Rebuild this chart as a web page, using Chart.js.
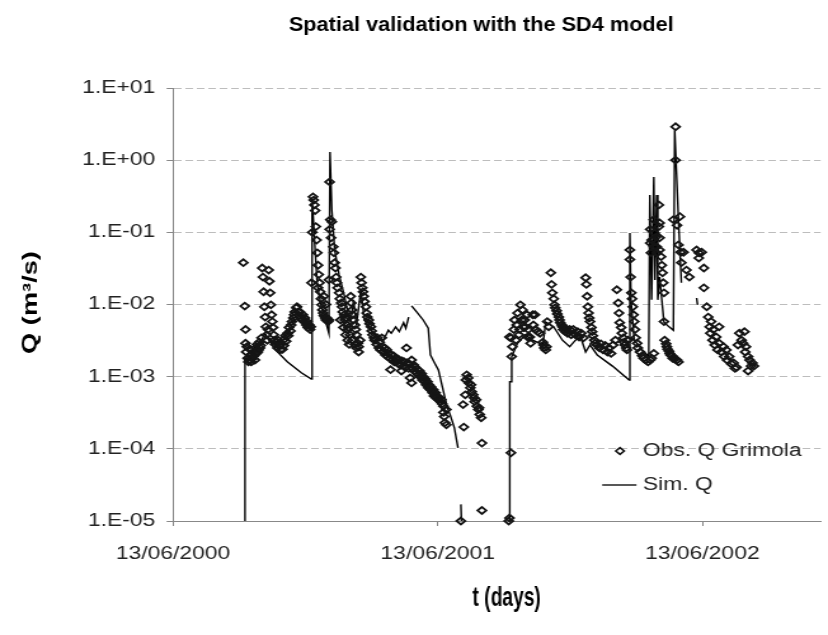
<!DOCTYPE html>
<html>
<head>
<meta charset="utf-8">
<title>Spatial validation with the SD4 model</title>
<script src="https://cdn.jsdelivr.net/npm/chart.js@4.4.1/dist/chart.umd.min.js"></script>
<style>
    html, body { margin: 0; padding: 0; background: #fff; overflow: hidden; }
    /* the original picture is stretched sideways, so draw narrow and widen */
    #wrap { width: 652px; height: 635px; transform: scaleX(1.2699); transform-origin: 0 0; }
</style>
</head>
<body>
<div id="wrap"><canvas id="flowChart" width="652" height="635"></canvas></div>
<script>
// Chart data (t in days since 13/06/2000, Q in m3/s)
const chartTitle = 'Spatial validation with the SD4 model';
const xTitle = 't (days)';
const yTitle = 'Q (m³/s)';
const obsLabel = 'Obs. Q Grimola';
const simLabel = 'Sim. Q';

const xTickDays = [0, 365, 730];
const xTickLabels = ['13/06/2000', '13/06/2001', '13/06/2002'];
const yTickValues = [1e-5, 1e-4, 1e-3, 1e-2, 1e-1, 1, 10];
const yTickLabels = ['1.E-05', '1.E-04', '1.E-03', '1.E-02', '1.E-01', '1.E+00', '1.E+01'];

const obsDays = [
    97, 99, 100, 100, 101, 102, 103, 104, 105, 106, 107, 108,
    109, 110, 111, 112, 113, 114, 115, 116, 117, 118, 119, 120,
    121, 122, 123, 124, 125, 126, 127, 128, 129, 130, 131, 132,
    133, 134, 135, 136, 137, 138, 139, 140,
    141, 142, 144, 145, 147, 148, 149, 151, 152, 153, 155, 156,
    158, 159, 160, 162, 163, 164, 166, 167, 168, 170, 171, 173,
    174, 175, 177, 178, 179, 181, 182, 184, 185, 186, 188, 189,
    190,
    191, 192, 193, 194, 195, 196, 197, 198, 199, 200, 200, 201,
    202, 203, 204, 205, 206, 207, 208, 208, 210, 211, 211, 212,
    214, 215,
    216, 217, 216, 215, 218, 219, 221, 222, 223, 224, 225, 226,
    227, 229, 230, 232, 233, 234, 236, 237, 238, 240, 241, 242,
    244, 231, 235, 238, 241, 243, 245, 246, 247, 247, 248, 249,
    251, 251, 252, 253, 253, 255, 256, 256, 258, 259, 260, 261,
    262, 263, 264, 266, 267, 268, 270, 271, 273, 274, 275, 277,
    278,
    281, 282, 284, 285, 286, 288, 289, 290, 292, 293, 295, 296,
    297, 299, 300, 301, 303, 304, 305, 307, 308, 310, 311, 312,
    314, 315, 316, 318, 319, 321, 322, 323, 325, 326, 327, 329,
    329, 330, 332, 333, 334, 336, 337, 338, 340, 341, 343, 344,
    345, 347, 348, 349, 351, 352, 353, 355, 356, 358, 359, 360,
    362, 363, 364, 366, 367, 369, 370, 371, 373, 373, 374, 375,
    377, 377,
    397, 400, 401, 403, 404, 405, 407, 408, 410, 411, 412, 414,
    415, 416, 418, 419, 421, 422, 423, 425, 426, 426,
    463, 464, 466, 466, 467, 468, 464, 470, 471, 473, 474, 475,
    477, 478, 479, 481, 482, 484, 485, 486, 488, 489, 490, 492,
    493, 496, 497, 499, 500, 503, 506, 510, 511, 512, 514, 515,
    516, 518, 521, 522, 523, 525, 526, 527, 529, 530, 532, 533,
    534, 536, 537, 538, 540, 541, 542, 544, 547, 549, 552, 555,
    558, 560, 563, 566, 569, 570, 571, 572, 573, 574, 575, 577,
    578, 579, 581, 582, 585, 588, 590, 593, 596, 599, 601, 604,
    607, 610, 612, 614, 615, 616, 618, 619, 621, 622, 623, 625,
    626, 627,
    630, 630, 631, 632, 633, 634, 635, 636, 637, 638, 640, 641,
    644, 647, 649, 652, 655, 658, 660, 663, 658, 658, 659, 660,
    663, 663, 664, 666, 667, 667, 670, 670, 671, 671, 671, 673,
    674, 675, 676, 677, 677, 678, 680, 681, 682, 684, 685, 686,
    688, 689, 692, 695, 697, 693, 693, 690, 695, 699, 697, 700,
    701, 704, 708, 712, 722, 725, 725, 729, 732, 732, 736, 738,
    740, 741, 742, 744, 745, 747, 749, 751, 753, 753, 756, 759,
    760, 763, 764, 767, 770, 773, 775, 777, 779, 781, 784, 786,
    788, 789, 790, 793, 795, 797, 799, 801, 793
];
const obsQ = [
    3.8e-2, 9.5e-3, 4.5e-3, 2.9e-3, 2.2e-3, 2.6e-3, 1.8e-3, 1.6e-3, 1.7e-3, 2.4e-3, 2.0e-3, 1.6e-3,
    2.0e-3, 1.8e-3, 2.2e-3, 1.95e-3, 1.7e-3, 2.5e-3, 2.1e-3, 2.8e-3, 2.2e-3, 2.35e-3, 3.0e-3, 2.5e-3,
    2.7e-3, 3.45e-3, 3.2e-2, 2.4e-2, 1.5e-2, 9.3e-3, 6.7e-3, 4.9e-3, 3.8e-3, 3.2e-3, 4.5e-3, 3.0e-2,
    2.1e-2, 1.45e-2, 9.9e-3, 7.2e-3, 5.8e-3, 4.8e-3, 3.8e-3, 3.2e-3,
    2.8e-3, 3.0e-3, 2.5e-3, 3.2e-3, 2.7e-3, 2.35e-3, 2.85e-3, 2.4e-3, 3.2e-3, 2.7e-3, 3.7e-3, 3.1e-3,
    4.0e-3, 3.7e-3, 4.8e-3, 4.3e-3, 5.2e-3, 5.8e-3, 6.5e-3, 7.2e-3, 7.9e-3, 9.0e-3, 9.3e-3, 7.9e-3,
    7.0e-3, 7.9e-3, 6.5e-3, 6.1e-3, 7.2e-3, 5.8e-3, 6.5e-3, 5.2e-3, 5.8e-3, 4.8e-3, 5.2e-3, 4.5e-3,
    4.9e-3,
    2.0e-2, 1.0e-1, 3.1e-1, 2.8e-1, 2.4e-1, 2.0e-1, 1.2e-1, 7.8e-2, 5.2e-2, 3.5e-2, 1.7e-2, 2.6e-2,
    2.0e-2, 1.5e-2, 1.2e-2, 9.9e-3, 8.4e-3, 7.6e-3, 7.0e-3, 1.3e-2, 6.5e-3, 6.1e-3, 1.0e-2, 6.5e-3,
    5.8e-3, 6.1e-3,
    5.0e-1, 1.5e-1, 1.1e-1, 2.2e-2, 8.4e-2, 1.4e-1, 6.3e-2, 5.2e-2, 3.8e-2, 3.2e-2, 2.4e-2, 2.0e-2,
    1.7e-2, 1.45e-2, 1.2e-2, 1.05e-2, 9.3e-3, 7.9e-3, 7.2e-3, 6.1e-3, 6.5e-3, 5.2e-3, 4.5e-3, 4.8e-3,
    3.8e-3, 6.1e-3, 4.8e-3, 3.8e-3, 3.2e-3, 2.8e-3, 1.3e-2, 1.05e-2, 8.4e-3, 3.2e-3, 7.2e-3, 6.1e-3,
    5.2e-3, 2.8e-3, 4.5e-3, 3.8e-3, 2.5e-3, 2.9e-3, 2.6e-3, 2.2e-3, 3.2e-3, 2.4e-2, 2.0e-2, 1.7e-2,
    1.5e-2, 1.3e-2, 1.1e-2, 9.3e-3, 7.6e-3, 6.7e-3, 6.1e-3, 5.4e-3, 4.9e-3, 4.3e-3, 3.8e-3, 3.45e-3,
    3.2e-3,
    2.8e-3, 3.45e-3, 2.5e-3, 3.0e-3, 2.35e-3, 3.45e-3, 2.6e-3, 2.2e-3, 2.5e-3, 2.0e-3, 2.35e-3, 1.9e-3,
    2.1e-3, 1.8e-3, 1.25e-3, 2.0e-3, 1.7e-3, 1.95e-3, 1.6e-3, 1.8e-3, 1.6e-3, 1.75e-3, 1.5e-3, 1.7e-3,
    1.45e-3, 1.2e-3, 1.65e-3, 1.4e-3, 1.6e-3, 1.35e-3, 2.5e-3, 1.55e-3, 1.3e-3, 1.5e-3, 9.6e-4, 8.2e-4,
    1.7e-3, 1.3e-3, 1.45e-3, 1.2e-3, 1.35e-3, 1.13e-3, 1.25e-3, 1.06e-3, 1.2e-3, 1.0e-3, 1.1e-3, 9.0e-4,
    1.0e-3, 8.5e-4, 9.3e-4, 7.7e-4, 8.5e-4, 7.0e-4, 7.7e-4, 6.6e-4, 7.2e-4, 6.0e-4, 6.6e-4, 5.4e-4,
    6.0e-4, 5.1e-4, 5.4e-4, 4.8e-4, 5.1e-4, 4.5e-4, 4.8e-4, 4.2e-4, 3.2e-4, 3.9e-4, 2.8e-4, 2.3e-4,
    2.15e-4, 3.5e-4,
    1.0e-5, 4.1e-4, 2.0e-4, 5.6e-4, 9.0e-4, 1.06e-3, 9.6e-4, 8.2e-4, 7.0e-4, 7.7e-4, 6.2e-4, 5.6e-4,
    5.1e-4, 4.5e-4, 4.8e-4, 3.9e-4, 3.5e-4, 3.7e-4, 3.0e-4, 2.7e-4, 1.2e-4, 1.4e-5,
    1.0e-5, 1.1e-5, 8.8e-5, 3.45e-3, 1.9e-3, 2.6e-3, 3.55e-3, 4.5e-3, 6.1e-3, 3.2e-3, 5.2e-3, 7.6e-3,
    3.8e-3, 4.5e-3, 9.9e-3, 6.1e-3, 8.4e-3, 4.8e-3, 6.1e-3, 4.9e-3, 7.2e-3, 3.55e-3, 4.5e-3, 3.55e-3,
    2.9e-3, 7.2e-3, 5.2e-3, 7.2e-3, 4.5e-3, 4.2e-3, 4.0e-3, 3.0e-3, 2.75e-3, 2.5e-3, 2.35e-3, 2.6e-3,
    5.8e-3, 4.9e-3, 2.75e-2, 1.9e-2, 1.45e-2, 1.2e-2, 9.9e-3, 9.0e-3, 8.2e-3, 7.4e-3, 6.7e-3, 6.1e-3,
    5.6e-3, 5.2e-3, 4.9e-3, 4.5e-3, 4.8e-3, 4.2e-3, 4.5e-3, 4.0e-3, 4.5e-3, 3.8e-3, 4.5e-3, 3.8e-3,
    4.2e-3, 3.55e-3, 4.0e-3, 3.45e-3, 2.35e-2, 1.9e-2, 1.3e-2, 9.3e-3, 7.6e-3, 6.5e-3, 5.8e-3, 4.8e-3,
    4.2e-3, 3.7e-3, 3.2e-3, 2.9e-3, 2.75e-3, 2.5e-3, 2.85e-3, 2.35e-3, 2.7e-3, 2.2e-3, 2.5e-3, 2.1e-3,
    2.75e-3, 3.2e-3, 1.6e-2, 1.05e-2, 7.6e-3, 5.6e-3, 4.8e-3, 4.0e-3, 3.45e-3, 3.0e-3, 2.75e-3, 2.5e-3,
    2.35e-3, 3.2e-3,
    5.7e-2, 4.2e-2, 2.4e-2, 1.45e-2, 1.2e-2, 9.3e-3, 7.2e-3, 5.8e-3, 4.5e-3, 3.45e-3, 2.9e-3, 2.5e-3,
    2.2e-3, 1.95e-3, 1.8e-3, 1.7e-3, 1.6e-3, 1.7e-3, 1.8e-3, 2.1e-3, 1.1e-1, 7.1e-2, 5.2e-2, 7.8e-2,
    1.5e-1, 6.3e-2, 9.8e-2, 8.6e-2, 6.3e-2, 5.2e-2, 2.4e-1, 1.2e-1, 1.35e-1, 8.4e-2, 5.7e-2, 4.6e-2,
    3.5e-2, 2.75e-2, 2.0e-2, 1.45e-2, 5.8e-3, 3.2e-3, 2.85e-3, 2.6e-3, 2.4e-3, 2.25e-3, 2.1e-3, 2.0e-3,
    1.95e-3, 1.8e-3, 1.75e-3, 1.7e-3, 1.6e-3, 2.9, 1.0, 1.5e-1, 1.25e-1, 1.65e-1, 6.7e-2, 5.3e-2,
    3.8e-2, 5.3e-2, 3.0e-2, 2.4e-2, 5.7e-2, 5.2e-2, 4.4e-2, 5.3e-2, 3.2e-2, 1.7e-2, 9.3e-3, 6.7e-3,
    4.9e-3, 4.0e-3, 5.8e-3, 3.2e-3, 4.5e-3, 2.75e-3, 3.55e-3, 2.35e-3, 4.9e-3, 2.9e-3, 2.2e-3, 2.6e-3,
    1.9e-3, 2.35e-3, 1.7e-3, 1.9e-3, 1.5e-3, 1.55e-3, 1.3e-3, 1.35e-3, 2.75e-3, 4.0e-3, 3.2e-3, 2.9e-3,
    4.2e-3, 2.2e-3, 2.6e-3, 1.9e-3, 1.7e-3, 1.4e-3, 1.55e-3, 1.4e-3, 1.2e-3
];

// simulated series, null = no value (gap in the line)
const simDays = [
    98.6, 99.3, 105, 112, 122, 127, 130, 144, 158, 177, 190.8, 191.8,
    196, 199, 204, 210, 215, 216.5, 219, 223, 229, 236, 242, 245,
    249, 253, 259, 264, 273, 284, 290, 297, 301, 307, 312, 318,
    321, 325, 327, 329, 336, 345, 352, 355, 360, 366, 373, 378,
    382, 388, 393, 395, 397, 397.8, 430, 463.7, 464.4, 466.4, 467.1, 475,
    486, 496, 510, 514, 525, 537, 547, 555, 562, 569, 575, 585,
    606, 629, 630, 631.5, 636, 647, 656, 657.5, 660, 663, 664.5, 667,
    668.5, 671, 677, 684, 690, 691.8, 697, 701, 710, 722, 723.3
];
const simQ = [
    1e-5, 1.7e-3, 2.2e-3, 2.5e-3, 3.2e-3, 4.0e-3, 3.45e-3, 2.2e-3, 1.6e-3, 1.13e-3, 9.3e-4, 0.30,
    0.057, 0.0187, 0.0099, 0.0061, 0.0040, 1.3, 0.204, 0.057, 0.0257, 0.0136, 0.0072, 0.0057,
    0.0116, 0.0052, 0.0159, 0.0061, 0.0044, 0.00345, 0.0032, 0.0044, 0.0040, 0.0049, 0.0042, 0.0056,
    0.0047, 0.0067, null, 0.0096, 0.0079, 0.0061, 0.0047, 0.0020, 0.0016, 0.00124, 0.00062, 0.00038,
    0.00030, 0.000195, 0.000103, null, 1.7e-5, 1e-5, null, 1e-5, 8.5e-4, 8.5e-4, 1.9e-3, 2.9e-3,
    3.8e-3, 3.2e-3, 2.75e-3, 5.7e-3, 4.9e-3, 3.2e-3, 2.6e-3, 3.2e-3, 3.55e-3, 2.2e-3, 2.75e-3, 2.0e-3,
    1.4e-3, 9.0e-4, 0.098, 0.0116, 3.2e-3, 2.35e-3, 1.9e-3, 0.33, 0.0116, 0.585, 0.0219, 0.33,
    0.0116, 0.024, 5.7e-3, 4.9e-3, 4.4e-3, 2.6, 0.149, 0.020, null, 0.0123, 0.0099
];

const fontFamily = "'Liberation Sans', Arial, sans-serif";

// draws a text line with its own x/y scaling (the original bold labels are condensed)
function drawScaledText(ctx, text, x, y, font, sx, sy, rotation) {
    ctx.save();
    ctx.font = font;
    ctx.fillStyle = '#000';
    ctx.textAlign = 'center';
    ctx.textBaseline = 'middle';
    ctx.translate(x, y);
    if (rotation) ctx.rotate(rotation);
    ctx.scale(sx, sy);
    ctx.fillText(text, 0, 0);
    ctx.restore();
}

// Chart title and axis titles
const titlesPlugin = {
    id: 'titles',
    afterDraw(chart) {
        const {ctx, chartArea} = chart;
        drawScaledText(ctx, chartTitle, 379, 25, 'bold 19px ' + fontFamily, 0.9, 1.08);
        drawScaledText(ctx, xTitle, 399, 598, 'bold 21px ' + fontFamily, 0.72, 1.3);
        drawScaledText(ctx, yTitle, 24, (chartArea.top + chartArea.bottom) / 2 - 2,
            'bold 20px ' + fontFamily, 1.36, 0.82, -Math.PI / 2);
    }
};

// Legend sits inside the plot area, bottom right
const legendPlugin = {
    id: 'insideLegend',
    afterDraw(chart) {
        const {ctx, chartArea} = chart;
        const textX = chartArea.right - 140;
        const row1 = chartArea.bottom - 70;
        const row2 = chartArea.bottom - 36;
        ctx.save();
        ctx.strokeStyle = '#111';
        ctx.lineWidth = 1.6;
        // diamond marker
        const mx = chartArea.right - 158, r = 3.3;
        ctx.beginPath();
        ctx.moveTo(mx - r, row1);
        ctx.lineTo(mx, row1 - r);
        ctx.lineTo(mx + r, row1);
        ctx.lineTo(mx, row1 + r);
        ctx.closePath();
        ctx.stroke();
        // line sample
        ctx.lineWidth = 1.4;
        ctx.beginPath();
        ctx.moveTo(chartArea.right - 172, row2);
        ctx.lineTo(chartArea.right - 145, row2);
        ctx.stroke();
        ctx.font = '18px ' + fontFamily;
        ctx.fillStyle = '#222';
        ctx.textAlign = 'left';
        ctx.textBaseline = 'middle';
        ctx.fillText(obsLabel, textX, row1);
        ctx.fillText(simLabel, textX, row2);
        ctx.restore();
    }
};

const obsPoints = obsDays.map((d, i) => ({x: d, y: obsQ[i]}));
const simPoints = simDays.map((d, i) => ({x: d, y: simQ[i]}));

const ctx = document.getElementById('flowChart');
new Chart(ctx, {
    type: 'scatter',
    data: {
        datasets: [{
            label: obsLabel,
            data: obsPoints,
            pointStyle: 'rectRot',
            pointRadius: 3.4,
            pointBorderWidth: 1.8,
            borderColor: '#151515',
            backgroundColor: 'rgba(0,0,0,0)',
            clip: 5
        }, {
            label: simLabel,
            data: simPoints,
            showLine: true,
            spanGaps: false,
            borderColor: '#000',
            borderWidth: 1.4,
            pointRadius: 0,
            tension: 0
        }]
    },
    options: {
        responsive: false,
        devicePixelRatio: 1,
        animation: false,
        layout: {
            padding: { top: 88, right: 1.2, bottom: 0, left: 0 }
        },
        plugins: {
            legend: { display: false },
            tooltip: { enabled: false }
        },
        scales: {
            x: {
                type: 'linear',
                min: 0,
                max: 893,
                afterBuildTicks: function(scale) {
                    scale.ticks = xTickDays.map(v => ({value: v}));
                },
                afterFit: function(scale) {
                    scale.height = 114;
                },
                ticks: {
                    autoSkip: false,
                    maxRotation: 0,
                    padding: 17,
                    color: '#222',
                    font: { family: fontFamily, size: 18 },
                    callback: function(value, index) {
                        return xTickLabels[index];
                    }
                },
                grid: {
                    drawOnChartArea: false,
                    tickLength: 5,
                    tickColor: '#888'
                },
                border: { color: '#888', width: 1 }
            },
            y: {
                type: 'logarithmic',
                min: 1e-5,
                max: 10,
                afterBuildTicks: function(scale) {
                    scale.ticks = yTickValues.map(v => ({value: v}));
                },
                afterFit: function(scale) {
                    scale.width = 136.2;
                },
                ticks: {
                    autoSkip: false,
                    padding: 9,
                    color: '#222',
                    font: { family: fontFamily, size: 18 },
                    callback: function(value, index) {
                        return yTickLabels[index];
                    }
                },
                grid: {
                    color: '#bdbdbd',
                    lineWidth: 1,
                    tickLength: 5,
                    tickColor: '#888'
                },
                border: { color: '#888', width: 1, dash: [6, 3] }
            }
        }
    },
    plugins: [titlesPlugin, legendPlugin]
});
</script>
</body>
</html>
